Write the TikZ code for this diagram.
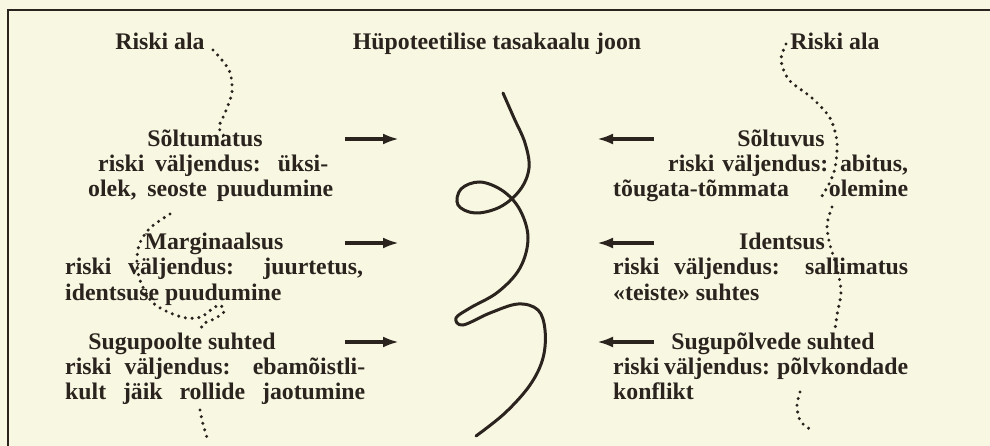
\documentclass[tikz,border=0pt]{standalone}
\usepackage{fontspec}
\setmainfont{Liberation Serif}
\usetikzlibrary{arrows.meta}
\definecolor{paper}{RGB}{248,247,226}
\definecolor{ink}{RGB}{42,35,30}
\begin{document}
\begin{tikzpicture}[x=1pt,y=-1pt,
  txt/.style={inner sep=0pt, text=ink, font=\fontsize{23.8}{26}\selectfont\bfseries},
  dotline/.style={draw=ink, line width=3.4pt, line cap=round, dash pattern=on 0pt off 6.8pt},
  force/.style={draw=ink, line width=3.4pt, -{Latex[length=16pt,width=11pt]}},
  curl/.style={draw=ink, line width=3pt, line cap=round}]
\fill[paper] (0,0) rectangle (990,446);
\useasboundingbox (0,0) rectangle (990,446);
\draw[ink, line width=2.8pt] (8,446) -- (8,10) -- (990,10);

% top titles
\node[txt, anchor=base] (rl) at (160,50) {Riski ala};
\node[txt, anchor=base] (title) at (497,50) {Hüpoteetilise tasakaalu joon};
\node[txt, anchor=base] (rr) at (835,50) {Riski ala};

% left column
\node[txt, anchor=base] (a1) at (205,147) {Sõltumatus};
\node[txt, anchor=base west] (a2) at (98,172) {\makebox[230pt][s]{riski väljendus: üksi-}};
\node[txt, anchor=base west] (a3) at (88,197) {\makebox[245pt][s]{olek, seoste puudumine}};

\node[txt, anchor=base] (b1) at (214,250) {Marginaalsus};
\node[txt, anchor=base west] (b2) at (65,275) {\makebox[298pt][s]{riski väljendus: juurtetus,}};
\node[txt, anchor=base west] (b3) at (65,300) {identsuse puudumine};

\node[txt, anchor=base] (c1) at (182,349) {Sugupoolte suhted};
\node[txt, anchor=base west] (c2) at (65,374) {\makebox[300pt][s]{riski väljendus: ebamõistli-}};
\node[txt, anchor=base west] (c3) at (65,399) {\makebox[300pt][s]{kult jäik rollide jaotumine}};

% right column
\node[txt, anchor=base] (d1) at (781,147) {Sõltuvus};
\node[txt, anchor=base west] (d2) at (668,172) {\makebox[240pt][s]{riski väljendus: abitus,}};
\node[txt, anchor=base west] (d3) at (613,197) {\makebox[295pt][s]{tõugata-tõmmata olemine}};

\node[txt, anchor=base] (e1) at (782,250) {Identsus};
\node[txt, anchor=base west] (e2) at (613,275) {\makebox[295pt][s]{riski väljendus: sallimatus}};
\node[txt, anchor=base west] (e3) at (613,300) {«teiste» suhtes};

\node[txt, anchor=base] (f1) at (773,349) {Sugupõlvede suhted};
\node[txt, anchor=base west] (f2) at (613,374) {\makebox[295pt][s]{riski väljendus: põlvkondade}};
\node[txt, anchor=base west] (f3) at (613,399) {konflikt};

% arrows
\coordinate (la1s) at (345,139); \coordinate (la1e) at (399,139);
\coordinate (la2s) at (345,243); \coordinate (la2e) at (399,243);
\coordinate (la3s) at (345,342); \coordinate (la3e) at (399,342);
\coordinate (ra1s) at (654,139); \coordinate (ra1e) at (597,139);
\coordinate (ra2s) at (654,243); \coordinate (ra2e) at (597,243);
\coordinate (ra3s) at (654,342); \coordinate (ra3e) at (597,342);
\draw[force] (la1s) -- (la1e);
\draw[force] (la2s) -- (la2e);
\draw[force] (la3s) -- (la3e);
\draw[force] (ra1s) -- (ra1e);
\draw[force] (ra2s) -- (ra2e);
\draw[force] (ra3s) -- (ra3e);

% hypothetical balance line
\draw[curl] plot[smooth, tension=0.6] coordinates {
 (503,93) (514,118) (525,143) (529,168) (520,190) (500,207) (475,213)
 (458,205) (461,189) (480,182) (503,191) (520,210) (528,238) (520,268)
 (498,292) (470,308) (456,318) (463,325) (490,313) (518,304) (538,310)
 (545,330) (543,358) (530,385) (505,413) (476,436)};

% dotted risk borders
\draw[dotline] plot[smooth] coordinates {(213,50) (229,70) (232,92) (225,113) (219,127) (224,136)};
\draw[dotline] plot[smooth] coordinates {(170,214) (150,228) (139,245) (137,265) (141,283) (152,302)
  (168,312) (186,318) (201,317) (212,309) (220,305) (224,312) (214,319) (203,324) (201,331)};
\draw[dotline] plot[smooth] coordinates {(200,410) (203,424) (208,441)};
\draw[dotline] plot[smooth] coordinates {(786,44) (781,60) (789,80) (812,98) (830,118) (837,142)
  (835,168) (829,184) (822,196)};
\draw[dotline] plot[smooth] coordinates {(832,207) (827,225) (830,245) (837,268) (841,292) (837,315) (835,330)};
\draw[dotline] plot[smooth] coordinates {(800,392) (797,405) (799,418) (805,426) (814,431)};
\end{tikzpicture}
\end{document}
